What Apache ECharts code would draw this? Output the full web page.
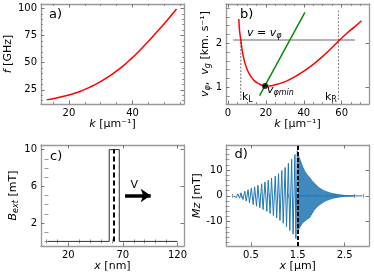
<!DOCTYPE html>
<html><head><meta charset="utf-8">
<script src="https://cdn.jsdelivr.net/npm/echarts@6/dist/echarts.min.js"></script>
<style>html,body{margin:0;padding:0;background:#fff}#c{width:374px;height:278px}</style>
</head><body><div id="c"></div>
<script>
// ---- Panel a: dispersion f(k)
const aK = [12.98, 16.12, 20.84, 23.98, 26.6, 29.22, 31.85, 34.47, 37.08, 39.7, 42.33, 44.95, 47.57, 50.71, 53.86];
const aF = [15.8, 17.6, 21.0, 24.1, 27.5, 31.4, 36.0, 41.3, 47.1, 54.0, 61.5, 69.4, 77.9, 88.4, 99.4];
const aXTicks = [20, 40];
const aXMinor = [15, 25, 30, 35, 45, 50, 55];
const aYTicks = [25, 50, 75, 100];
const aYMinor = [15, 20, 30, 35, 40, 45, 55, 60, 65, 70, 80, 85, 90, 95];

// ---- Panel b: phase velocity, group velocity
const bK = [5.77, 6.12, 6.81, 7.5, 8.54, 9.75, 10.97, 12.35, 14.09, 15.82, 17.9, 19.63, 21.88, 24.48, 28.81,
  33.14, 37.47, 41.8, 46.14, 50.47, 54.8, 58.26, 62.6, 66.93, 70.4];
const bVphi = [2.55, 2.30, 2.075, 1.85, 1.62, 1.45, 1.33, 1.23, 1.145, 1.09, 1.045, 1.03, 1.03, 1.05, 1.105,
  1.19, 1.295, 1.415, 1.56, 1.72, 1.895, 2.045, 2.22, 2.375, 2.51];
const bGK = [16.7, 40.6];
const bVg = [0.81, 2.70];
const bVK = [2.8, 67.0];
const bVlevel = [2.07, 2.07];
const bMinK = [19.6];
const bMinV = [1.03];
const bKL = 6.8, bKR = 58.3;
const bXTicks = [0, 20, 40, 60];
const bXMinor = [5, 10, 15, 25, 30, 35, 45, 50, 55, 65, 70];
const bYTicks = [1, 2];
const bYMinor = [0.8, 1.2, 1.4, 1.6, 1.8, 2.2, 2.4, 2.6, 2.8];

// ---- Panel c: external field pulse
const cX = [1, 57.5, 57.5, 66.7, 66.7, 120];
const cB = [0, 0, 10, 10, 0, 0];
const cCenter = 62;
const cArrowX = [72, 95.5];
const cArrowY = 5;
const cXTicks = [20, 70, 120];
const cXMinor = [0, 10, 30, 40, 50, 60, 80, 90, 100, 110];
const cYTicks = [2, 6, 10];
const cYMinor = [0, 1, 3, 4, 5, 7, 8, 9];

// ---- Panel d: Mz profile
const dX = [0.12, 0.15, 0.19, 0.22, 0.26, 0.29, 0.33, 0.37, 0.40, 0.44, 0.47, 0.51, 0.55, 0.58, 0.62, 0.65, 0.69,
  0.73, 0.76, 0.80, 0.84, 0.87, 0.91, 0.94, 0.98, 1.02, 1.05, 1.09, 1.12, 1.16, 1.19, 1.23, 1.26, 1.30, 1.33,
  1.37, 1.40, 1.44, 1.46, 1.49];
const dY = [0, 0.6, -0.6, 0.8, -0.9, 1.2, -1.4, 1.8, -2.0, 2.4, -2.7, 3.0, -3.4, 3.5, -4.0, 4.1, -4.6,
  4.7, -5.3, 5.4, -6.0, 6.1, -6.8, 6.8, -7.6, 7.6, -8.5, 8.6, -9.5, 9.8, -10.6, 11.0, -12.0, 12.6, -13.4,
  14.2, -14.8, 16.0, -16.5, 17.5];
const dUpX = [1.49, 1.50, 1.53, 1.57, 1.60, 1.65, 1.70, 1.75, 1.80, 1.85, 1.90, 1.95, 2.00, 2.05, 2.10, 2.20, 2.30, 2.40, 2.50, 2.60, 2.70];
const dUpY = [17.5, 16.0, 15.0, 13.0, 11.5, 9.5, 8.2, 7.2, 6.0, 5.0, 4.1, 3.2, 2.6, 2.1, 1.7, 1.1, 0.7, 0.4, 0.2, 0.1, 0];
const dLoX = [1.49, 1.50, 1.53, 1.57, 1.60, 1.65, 1.70, 1.75, 1.80, 1.85, 1.90, 1.95, 2.00, 2.05, 2.10, 2.20, 2.30, 2.40, 2.50, 2.60, 2.70];
const dLoY = [0, -14.0, -12.5, -11.5, -10.5, -9.8, -9.0, -8.5, -7.0, -5.5, -4.5, -3.6, -3.0, -2.4, -1.9, -1.2, -0.7, -0.4, -0.2, -0.1, 0];
const dTailX = [1.5, 2.88];
const dTailY = [0, 0];
const dMark = 1.5;
const dXTicks = [0.5, 1.5, 2.5];
const dXMinor = [0.1, 0.3, 0.7, 0.9, 1.1, 1.3, 1.7, 1.9, 2.1, 2.3, 2.7, 2.9];
const dYTicks = [-10, 0, 10];
const dYMinor = [-18, -16, -14, -12, -8, -6, -4, -2, 2, 4, 6, 8, 12, 14, 16, 18];

const FF = 'DejaVu Sans';
const zip = (a, b) => a.map((v, i) => [v, b[i]]);

const grids = [
  {left: 41, top: 4, width: 143, height: 100},
  {left: 226, top: 4, width: 143, height: 100},
  {left: 41, top: 145, width: 143, height: 101},
  {left: 226.5, top: 145, width: 142.5, height: 101}
];

const frame = {show: true, onZero: false, lineStyle: {color: '#999', width: 1.3}};
const tickCol = '#777';
function rich() {
  return {
    i: {fontStyle: 'italic', fontSize: 11, fontFamily: FF, color: '#000'},
    n: {fontSize: 11, fontFamily: FF, color: '#000'},
    s: {fontStyle: 'italic', fontSize: 8, fontFamily: FF, color: '#000', padding: [6, 0, 0, 0]}
  };
}
function makeAxes(dim, g, range, maj, minr, name, gap) {
  const pos = dim === 'x' ? ['bottom', 'top'] : ['left', 'right'];
  const out = [];
  const base = {gridIndex: g, type: 'value', min: range[0], max: range[1], splitLine: {show: false}};
  out.push(Object.assign({}, base, {
    position: pos[0], axisLine: frame,
    axisTick: {show: true, inside: true, length: 3.5, customValues: maj, lineStyle: {color: tickCol, width: 1}},
    axisLabel: {show: true, customValues: maj, fontSize: 10, fontFamily: FF, color: '#000', margin: 4},
    name: name, nameLocation: 'middle', nameGap: gap,
    nameTextStyle: {fontSize: 11, fontFamily: FF, color: '#000', rich: rich()}
  }));
  out.push(Object.assign({}, base, {
    position: pos[1], axisLine: frame,
    axisTick: {show: true, inside: true, length: 3.5, customValues: maj, lineStyle: {color: tickCol, width: 1}},
    axisLabel: {show: false}
  }));
  for (const p of pos) {
    out.push(Object.assign({}, base, {
      position: p, axisLine: {show: false},
      axisTick: {show: true, inside: true, length: 2, customValues: minr, lineStyle: {color: tickCol, width: 0.8}},
      axisLabel: {show: false}
    }));
  }
  return out;
}

const xAxes = [].concat(
  makeAxes('x', 0, [11.2, 56.2], aXTicks, aXMinor, '{i|k} [μm⁻¹]', 15),
  makeAxes('x', 1, [-1, 74.4], bXTicks, bXMinor, '{i|k} [μm⁻¹]', 15),
  makeAxes('x', 2, [-5, 126], cXTicks, cXMinor, '{i|x} [nm]', 12),
  makeAxes('x', 3, [-0.02, 3.02], dXTicks, dXMinor, '{i|x} [μm]', 12)
);
const yAxes = [].concat(
  makeAxes('y', 0, [12, 104], aYTicks, aYMinor, '{i|f} [GHz]', 23),
  makeAxes('y', 1, [0.62, 2.89], bYTicks, bYMinor, '{i|v}{s|φ}{n|,  }{i|v}{s|g}{n| [km. s⁻¹]}', 10),
  makeAxes('y', 2, [-0.5, 10.5], cYTicks, cYMinor, '{i|B}{s|ext}{n| [mT]}', 20),
  makeAxes('y', 3, [-19.4, 19.7], dYTicks, dYMinor, '{i|Mz} [mT]', 14)
);

const L = (g) => ({xAxisIndex: g * 4, yAxisIndex: g * 4});
const series = [
  Object.assign({type: 'line', data: zip(aK, aF), smooth: 0.5, showSymbol: false,
    lineStyle: {color: '#ff0000', width: 1.5}}, L(0)),
  Object.assign({type: 'line', data: zip(bVK, bVlevel), showSymbol: false,
    lineStyle: {color: '#999', width: 1.5}}, L(1)),
  Object.assign({type: 'line', data: [[bKL, 0.71], [bKL, 2.07]], showSymbol: false,
    lineStyle: {color: '#444', width: 0.8, type: [2, 1.5]}}, L(1)),
  Object.assign({type: 'line', data: [[bKR, 0.71], [bKR, 2.76]], showSymbol: false,
    lineStyle: {color: '#666', width: 0.8, type: [2, 1.5]}}, L(1)),
  Object.assign({type: 'line', data: zip(bK, bVphi), smooth: 0.5, showSymbol: false,
    lineStyle: {color: '#ff0000', width: 1.5}}, L(1)),
  Object.assign({type: 'line', data: zip(bGK, bVg), showSymbol: false,
    lineStyle: {color: '#0a8a0a', width: 1.5}}, L(1)),
  Object.assign({type: 'scatter', data: zip(bMinK, bMinV), symbolSize: 6,
    itemStyle: {color: '#000'}, z: 5}, L(1)),
  Object.assign({type: 'line', data: zip(cX, cB), showSymbol: false,
    lineStyle: {color: '#333', width: 1},
    markLine: {silent: true, animation: false, data: [
      [{coord: [cCenter, 0], symbol: 'none'}, {coord: [cCenter, 10], symbol: 'none'}],
      [{coord: [cArrowX[0], cArrowY], symbol: 'none', lineStyle: {type: 'solid', width: 3.5, color: '#000'}},
       {coord: [cArrowX[1], cArrowY], symbol: 'arrow', symbolSize: [10, 10]}]
    ], lineStyle: {color: '#000', width: 2, type: [5, 3]}, label: {show: false}}}, L(2)),
  Object.assign({type: 'line', data: zip(dUpX, dUpY), showSymbol: false,
    lineStyle: {color: '#1f77b4', width: 0.8}, areaStyle: {color: '#2b7cb8', opacity: 0.9}}, L(3)),
  Object.assign({type: 'line', data: zip(dLoX, dLoY), showSymbol: false,
    lineStyle: {color: '#1f77b4', width: 0.8}, areaStyle: {color: '#2b7cb8', opacity: 0.9}}, L(3)),
  Object.assign({type: 'line', data: zip(dTailX, dTailY), showSymbol: false,
    lineStyle: {color: '#1f77b4', width: 1}}, L(3)),
  Object.assign({type: 'line', data: zip(dX, dY), showSymbol: false,
    lineStyle: {color: '#1f77b4', width: 1},
    markLine: {silent: true, animation: false, symbol: 'none', data: [{xAxis: dMark}],
      lineStyle: {color: '#000', width: 2, type: [4, 2]}, label: {show: false}}, z: 4}, L(3))
];

function txt(x, y, text, size) {
  return {type: 'text', x: x, y: y, z: 100, style: {text: text, fontSize: size || 11, fontFamily: FF,
    fill: '#000', verticalAlign: 'middle', align: 'left', rich: {
      i: {fontStyle: 'italic', fontSize: size || 11, fontFamily: FF, fill: '#000'},
      n: {fontSize: size || 11, fontFamily: FF, fill: '#000'},
      s: {fontStyle: 'italic', fontSize: 8, fontFamily: FF, fill: '#000', padding: [6, 0, 0, 0]},
      u: {fontSize: 8, fontFamily: FF, fill: '#000', padding: [6, 0, 0, 0]}
    }}};
}
const graphic = [
  txt(49, 15, 'a)', 13), txt(240, 15, 'b)', 13), txt(50, 157, 'c)', 13), txt(234.5, 155, 'd)', 13),
  txt(247, 33, '{i|v}{n| = }{i|v}{s|φ}'),
  txt(267, 90, '{i|v}{s|φmin}'),
  txt(242, 97, '{n|k}{u|L}'),
  txt(325, 97, '{n|k}{u|R}'),
  txt(130.5, 185, 'V', 11)
];

const chart = echarts.init(document.getElementById('c'), null, {renderer: 'canvas'});
chart.setOption({animation: false, grid: grids, xAxis: xAxes, yAxis: yAxes, series: series, graphic: graphic});
</script></body></html>
